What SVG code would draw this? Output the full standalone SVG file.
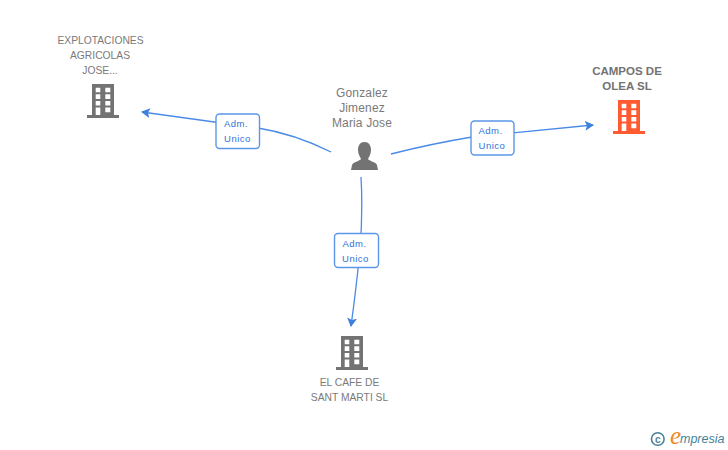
<svg xmlns="http://www.w3.org/2000/svg" width="728" height="450" viewBox="0 0 728 450">
<style>
.t{font-family:"Liberation Sans",Arial,sans-serif;font-size:10.3px;fill:#7a7a7a;text-anchor:middle}
.p{font-size:12px;letter-spacing:.15px}
.b{font-weight:bold;font-size:11.5px;fill:#737373}
.l{font-family:"Liberation Sans",Arial,sans-serif;font-size:9.5px;fill:#2f74d8;text-anchor:middle;letter-spacing:.5px}
.c{fill:none;stroke:#4a8be6;stroke-width:1.3}
.box{fill:#fff;stroke:#5c96e8;stroke-width:1.4}
</style>
<defs>
<marker id="a" markerWidth="10" markerHeight="10" refX="8" refY="5" orient="auto" markerUnits="userSpaceOnUse"><path d="M0 0L9 5L0 10L2 5Z" fill="#3f80dc"/></marker>
<g id="bld">
<path d="M5 0H27V31H32V34H0V31H5Z"/>
<path fill="#fff" d="M8.7 3.7h4.6v4.6h-4.6zM18.3 3.7h5v4.6h-5zM8.7 10.3h4.6v4.6h-4.6zM18.3 10.3h5v4.6h-5zM8.7 17h4.6v4.6h-4.6zM18.3 17h5v4.6h-5zM8.7 23.6h4.6V31h-4.6zM18.3 23.6h5v4.6h-5z"/>
</g>
</defs>
<g id="connectors">
<path class="c" d="M331 152Q295 134 258 128Q200 120 142 112" marker-end="url(#a)"/>
<path class="c" d="M391 154Q430 144 472 137Q530 131 593 125" marker-end="url(#a)"/>
<path class="c" d="M361 177Q363 210 360 250Q356 290 351 326" marker-end="url(#a)"/>
</g>
<g id="edge-label-1"><rect class="box" x="216" y="114" width="43.500" height="34.500" rx="3.500"/><text class="l" x="236" y="127">Adm.</text><text class="l" x="237.500" y="142">Unico</text></g>
<g id="edge-label-2"><rect class="box" x="471" y="121" width="43" height="34" rx="3.500"/><text class="l" x="490.500" y="134">Adm.</text><text class="l" x="492" y="149">Unico</text></g>
<g id="edge-label-3"><rect class="box" x="334.500" y="233.500" width="44" height="34" rx="3.500"/><text class="l" x="354.500" y="247">Adm.</text><text class="l" x="355.500" y="262">Unico</text></g>
<g id="node-explotaciones">
<text class="t" x="100.500" y="44">EXPLOTACIONES</text><text class="t" x="100" y="59">AGRICOLAS</text><text class="t" x="100" y="74">JOSE...</text>
<use href="#bld" x="87" y="84" fill="#737373"/>
</g>
<g id="node-person">
<text class="t p" x="362" y="97">Gonzalez</text><text class="t p" x="362" y="112">Jimenez</text><text class="t p" x="362" y="127">Maria Jose</text>
<path fill="#737373" d="M364.500 142C359 142 358 147 358 150C358 154 360 157 361 159C360 161 353 162 352 165L351 170H378L377 165C376 162 369 161 368 159C369 157 371 154 371 150C371 147 370 142 364.500 142Z"/>
</g>
<g id="node-campos">
<text class="t b" x="627" y="75">CAMPOS DE</text><text class="t b" x="627" y="90">OLEA SL</text>
<use href="#bld" x="613" y="100" fill="#ff5a30"/>
</g>
<g id="node-cafe">
<text class="t" x="349.500" y="386">EL CAFE DE</text><text class="t" x="349.500" y="401">SANT MARTI SL</text>
<use href="#bld" x="336" y="336" fill="#737373"/>
</g>
<g id="logo">
<circle cx="657.800" cy="439" r="6.300" fill="none" stroke="#4a8296" stroke-width="1.600"/>
<text x="657.800" y="442.500" font-family="Liberation Sans,sans-serif" font-weight="bold" font-size="10" fill="#4a8296" text-anchor="middle">c</text>
<text x="670" y="444" font-family="Liberation Serif,serif" font-style="italic" font-size="25" fill="#f0891e">e</text>
<text x="680" y="443" font-family="Liberation Sans,sans-serif" font-style="italic" font-size="12.500" fill="#3f8299">mpresia</text>
</g>
</svg>
